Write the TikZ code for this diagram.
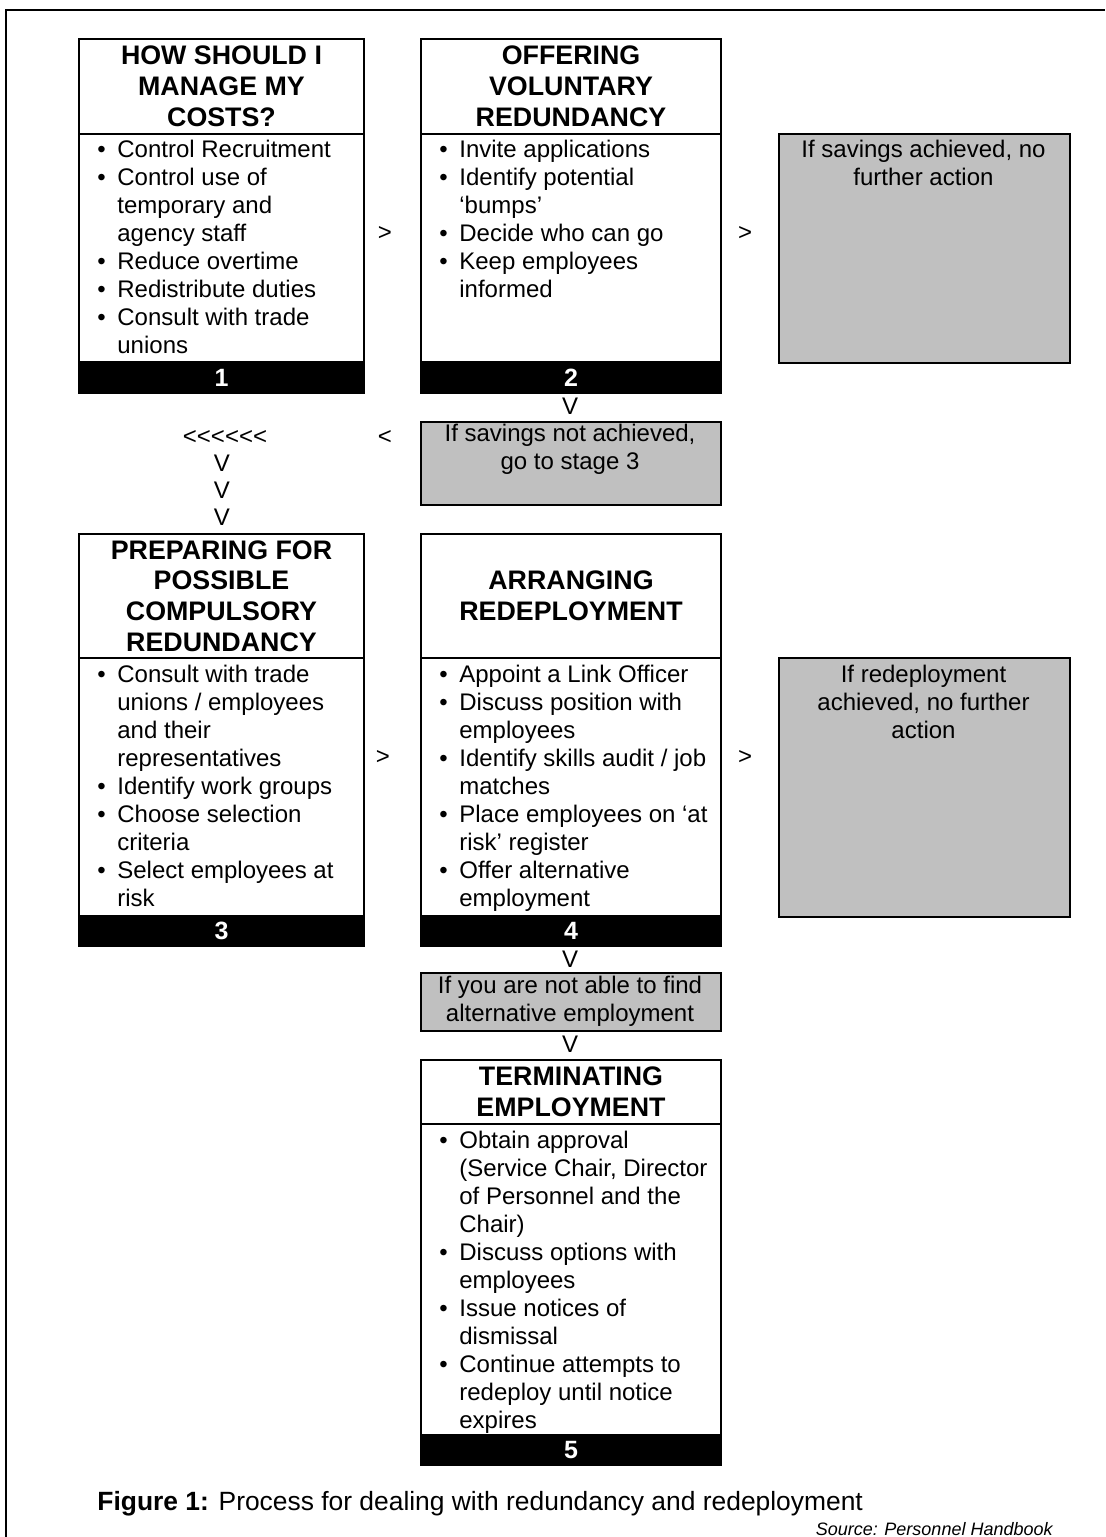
\documentclass[tikz,border=0pt]{standalone}
\usepackage{fontspec}
\setmainfont{Liberation Sans}
\usepackage{tikz}
\definecolor{silver}{RGB}{192,192,192}
\newcommand{\bul}{\makebox[10pt][l]{\textbullet}}
\newcommand{\ind}{\hspace*{10pt}}
\newcommand{\lsign}{<\kern0pt}
\begin{document}
\begin{tikzpicture}[x=0.5pt,y=-0.5pt,
    stagebox/.style={rectangle, draw, line width=1pt, fill=white,
      anchor=north west, inner sep=0pt},
    heading/.style={stagebox, align=center,
      font=\bfseries\fontsize{13.4}{15.4}\selectfont},
    numbar/.style={rectangle, draw, fill=black, line width=1pt,
      anchor=south west, inner sep=0pt, text=white,
      font=\bfseries\fontsize{12.5}{14}\selectfont},
    items/.style={anchor=north west, align=left, inner sep=0pt,
      font=\fontsize{12}{14}\selectfont},
    note/.style={rectangle, draw, fill=silver, line width=1pt,
      anchor=north west, inner sep=0pt},
    notetext/.style={anchor=north, align=center, inner sep=0pt,
      font=\fontsize{12}{14}\selectfont},
    sign/.style={inner sep=0pt, font=\fontsize{12}{14}\selectfont}]

  \useasboundingbox (0,0) rectangle (1105,1537);
  \draw[line width=1.2pt] (6,1537) -- (6,10) -- (1105,10);

  % stage 1
  \node[stagebox, minimum width=142.5pt, minimum height=177pt] (s1) at (78,38) {};
  \node[heading, minimum width=142.5pt, minimum height=47.5pt] (t1) at (78,38)
    {HOW SHOULD I\\MANAGE MY\\COSTS?};
  \node[items] (b1) at (97,137.4)
    {\strut\bul Control Recruitment\\
     \bul Control use of\\
     \ind temporary and\\
     \ind agency staff\\
     \bul Reduce overtime\\
     \bul Redistribute duties\\
     \bul Consult with trade\\
     \ind unions};
  \node[numbar, minimum width=142.5pt, minimum height=15.5pt] (n1) at (s1.south west) {1};

  % stage 2
  \node[stagebox, minimum width=150pt, minimum height=177pt] (s2) at (420,38) {};
  \node[heading, minimum width=150pt, minimum height=47.5pt] (t2) at (420,38)
    {OFFERING\\VOLUNTARY\\REDUNDANCY};
  \node[items] (b2) at (439,137.4)
    {\strut\bul Invite applications\\
     \bul Identify potential\\
     \ind ‘bumps’\\
     \bul Decide who can go\\
     \bul Keep employees\\
     \ind informed};
  \node[numbar, minimum width=150pt, minimum height=15.5pt] (n2) at (s2.south west) {2};

  \node[note, minimum width=145.5pt, minimum height=114.5pt] (g1) at (778,133) {};
  \node[notetext] at (923.5,137.4) {\strut If savings achieved, no\\further action};

  \node[sign] (a1) at (385,233) {>};
  \node[sign] (a2) at (745,233) {>};
  \node[sign] (d1) at (570,406) {V};

  \node[note, minimum width=150pt, minimum height=41.5pt] (g2) at (420,421) {};
  \node[notetext] at (570,421.4) {\strut If savings not achieved,\\go to stage 3};

  % back to stage 3
  \node[sign] (l1) at (385,437) {<};
  \node[sign] (l2) at (225,437) {\lsign\lsign\lsign\lsign\lsign<};
  \node[sign] (v1) at (222,463) {V};
  \node[sign] (v2) at (222,490) {V};
  \node[sign] (v3) at (222,517) {V};

  % stage 3
  \node[stagebox, minimum width=142.5pt, minimum height=206pt] (s3) at (78,533) {};
  \node[heading, minimum width=142.5pt, minimum height=62pt] (t3) at (78,533)
    {PREPARING FOR\\POSSIBLE\\COMPULSORY\\REDUNDANCY};
  \node[items] (b3) at (97,662.4)
    {\strut\bul Consult with trade\\
     \ind unions / employees\\
     \ind and their\\
     \ind representatives\\
     \bul Identify work groups\\
     \bul Choose selection\\
     \ind criteria\\
     \bul Select employees at\\
     \ind risk};
  \node[numbar, minimum width=142.5pt, minimum height=15pt] (n3) at (s3.south west) {3};

  % stage 4
  \node[stagebox, minimum width=150pt, minimum height=206pt] (s4) at (420,533) {};
  \node[heading, minimum width=150pt, minimum height=62pt] (t4) at (420,533)
    {ARRANGING\\REDEPLOYMENT};
  \node[items] (b4) at (439,662.4)
    {\strut\bul Appoint a Link Officer\\
     \bul Discuss position with\\
     \ind employees\\
     \bul Identify skills audit / job\\
     \ind matches\\
     \bul Place employees on ‘at\\
     \ind risk’ register\\
     \bul Offer alternative\\
     \ind employment};
  \node[numbar, minimum width=150pt, minimum height=15pt] (n4) at (s4.south west) {4};

  \node[note, minimum width=145.5pt, minimum height=129.5pt] (g3) at (778,657) {};
  \node[notetext] at (923.5,662.4) {\strut If redeployment\\achieved, no further\\action};

  \node[sign] (a3) at (383,757) {>};
  \node[sign] (a4) at (745,757) {>};
  \node[sign] (d2) at (570,959) {V};

  \node[note, minimum width=150pt, minimum height=29pt] (g4) at (420,972) {};
  \node[notetext] at (570,973.4) {\strut If you are not able to find\\alternative employment};
  \node[sign] (d3) at (570,1044) {V};

  % stage 5
  \node[stagebox, minimum width=150pt, minimum height=202.5pt] (s5) at (420,1059) {};
  \node[heading, minimum width=150pt, minimum height=32pt] (t5) at (420,1059)
    {TERMINATING\\EMPLOYMENT};
  \node[items] (b5) at (439,1128.4)
    {\strut\bul Obtain approval\\
     \ind (Service Chair, Director\\
     \ind of Personnel and the\\
     \ind Chair)\\
     \bul Discuss options with\\
     \ind employees\\
     \bul Issue notices of\\
     \ind dismissal\\
     \bul Continue attempts to\\
     \ind redeploy until notice\\
     \ind expires};
  \node[numbar, minimum width=150pt, minimum height=15pt] (n5) at (s5.south west) {5};

  \node[anchor=base west, inner sep=0pt, font=\fontsize{13.2}{15}\selectfont] (cap) at (97,1510)
    {\textbf{Figure 1:} Process for dealing with redundancy and redeployment};
  \node[anchor=base east, inner sep=0pt, font=\itshape\fontsize{9}{10}\selectfont] (src) at (1053,1535)
    {Source: Personnel Handbook};

\end{tikzpicture}
\end{document}
